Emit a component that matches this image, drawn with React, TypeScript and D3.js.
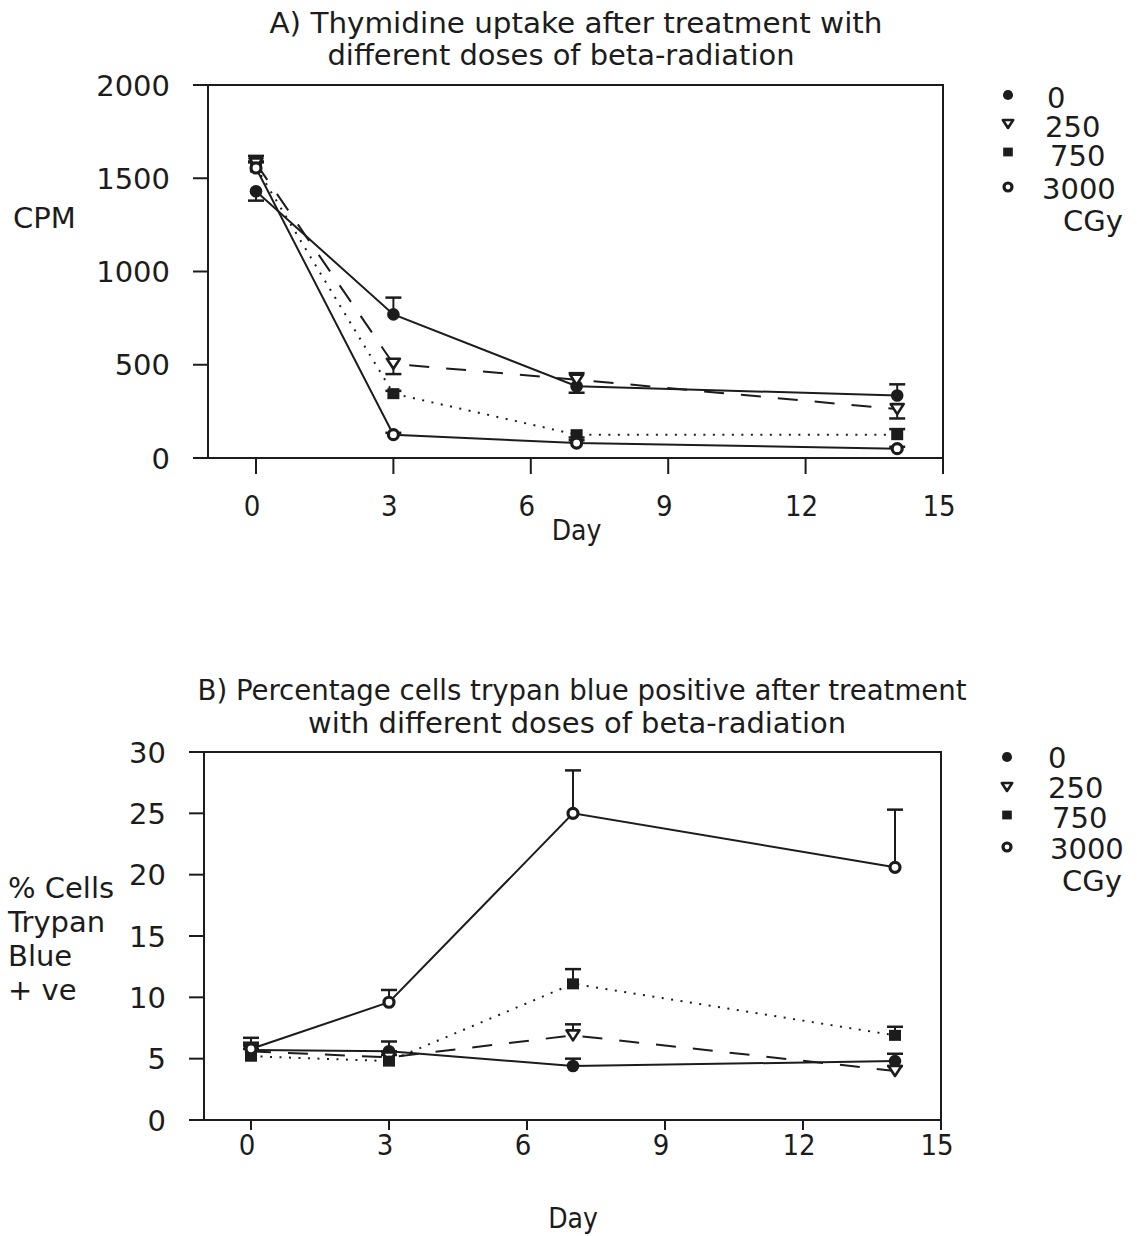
import React from "react";
import * as d3 from "d3";

// ---- Data ----
const days = [0, 3, 7, 14];
const doseLabels = ["0", "250", "750", "3000"];
const doseUnit = "CGy";
const xTickValues = [0, 3, 6, 9, 12, 15];

// Panel A: thymidine uptake (CPM)
const cpmDose0 = [1430, 770, 385, 335];
const cpmDose0Err = [-50, 90, 70, 60];
const cpmDose250 = [1580, 505, 420, 262];
const cpmDose250Err = [40, -55, -70, -50];
const cpmDose750 = [1560, 345, 125, 125];
const cpmDose750Err = [30, 15, -30, 30];
const cpmDose3000 = [1555, 125, 80, 50];
const cpmDose3000Err = [30, 10, 30, 10];
const cpmTicks = [0, 500, 1000, 1500, 2000];

// Panel B: % cells trypan blue positive
const pctDose0 = [5.7, 5.6, 4.4, 4.8];
const pctDose0Err = [0.6, 0.8, 0.6, 0.6];
const pctDose250 = [5.6, 5.1, 6.9, 4.0];
const pctDose250Err = [0.5, 0.5, 0.9, 0.4];
const pctDose750 = [5.2, 4.8, 11.1, 6.9];
const pctDose750Err = [0.6, 0.5, 1.2, 0.7];
const pctDose3000 = [5.8, 9.6, 25.0, 20.6];
const pctDose3000Err = [0.9, 1.0, 3.5, 4.7];
const pctTicks = [0, 5, 10, 15, 20, 25, 30];

// ---- Styles ----
const INK = "#1c1c1c";
const WIDE = "'DejaVu Sans', 'Liberation Sans', sans-serif";
const NARROW = "'Liberation Sans Narrow', 'DejaVu Sans Condensed', 'Liberation Sans', sans-serif";
const seriesStyle = [
  { marker: "dot", dash: null as string | null },
  { marker: "tri", dash: "20,17" },
  { marker: "sq", dash: "2,7.5" },
  { marker: "ring", dash: null as string | null },
];

function Marker({ kind, x, y, s = 1 }: { kind: string; x: number; y: number; s?: number }) {
  if (kind === "dot") return <circle cx={x} cy={y} r={6.3 * s} fill={INK} />;
  if (kind === "sq")
    return <rect x={x - 6 * s} y={y - 5.5 * s} width={12 * s} height={11 * s} fill={INK} />;
  if (kind === "tri") {
    const w = 6.5 * s, h = 5 * s;
    return (
      <path
        d={`M${x - w},${y - h}L${x + w},${y - h}L${x},${y + h}Z`}
        fill="#fff"
        stroke={INK}
        strokeWidth={2.6}
        strokeLinejoin="round"
      />
    );
  }
  return <circle cx={x} cy={y} r={5 * s} fill="#fff" stroke={INK} strokeWidth={3.2} />;
}

type PanelProps = {
  xRange: [number, number];
  yRange: [number, number];
  yMax: number;
  yTicks: number[];
  series: number[][];
  errors: number[][];
  axisLeft: number;
  xTickLen: number;
  xLabelBase: number;
  dayBase: number;
  legend: { x: number; tx: number[]; y: number[]; my: number[] };
};

function Panel(p: PanelProps) {
  const x = d3.scaleLinear().domain([0, 15]).range(p.xRange);
  const y = d3.scaleLinear().domain([0, p.yMax]).range(p.yRange);
  const line = d3
    .line<number>()
    .x((_, i) => x(days[i]))
    .y((d) => y(d));
  const top = y(p.yMax);
  const bottom = y(0);
  const right = x(15);
  const legendTexts = [...doseLabels, doseUnit];
  return (
    <g>
      {/* frame */}
      <path
        d={`M${p.axisLeft},${bottom}V${top}H${right}V${bottom}Z`}
        fill="none"
        stroke={INK}
        strokeWidth={2}
      />
      {/* y ticks */}
      {p.yTicks.map((t) => (
        <g key={t}>
          <line x1={p.axisLeft - 15} x2={p.axisLeft} y1={y(t)} y2={y(t)} stroke={INK} strokeWidth={2} />
          <text
            x={p.axisLeft - 38}
            y={y(t) + 10.5}
            textAnchor="end"
            fontFamily={WIDE}
            fontSize={29}
            fill={INK}
          >
            {t}
          </text>
        </g>
      ))}
      {/* x ticks */}
      {xTickValues.map((t) => (
        <g key={t}>
          <line x1={x(t)} x2={x(t)} y1={bottom} y2={bottom + p.xTickLen} stroke={INK} strokeWidth={2} />
          <text
            x={x(t) - 4}
            y={p.xLabelBase}
            textAnchor="middle"
            fontFamily={NARROW}
            fontSize={29}
            fill={INK}
          >
            {t}
          </text>
        </g>
      ))}
      <text x={x(7)} y={p.dayBase} textAnchor="middle" fontFamily={NARROW} fontSize={28} fill={INK}>
        Day
      </text>
      {/* lines */}
      {p.series.map((s, i) => (
        <path
          key={i}
          d={line(s) || ""}
          fill="none"
          stroke={INK}
          strokeWidth={2}
          strokeDasharray={seriesStyle[i].dash || undefined}
        />
      ))}
      {/* error bars */}
      {p.series.map((s, i) =>
        s.map((v, j) => {
          const e = p.errors[i][j];
          const cx = x(days[j]);
          const y2 = y(v + e);
          return (
            <g key={`e${i}-${j}`}>
              <line x1={cx} x2={cx} y1={y(v)} y2={y2} stroke={INK} strokeWidth={2} />
              <line x1={cx - 8} x2={cx + 8} y1={y2} y2={y2} stroke={INK} strokeWidth={2.5} />
            </g>
          );
        })
      )}
      {/* markers */}
      {p.series.map((s, i) =>
        s.map((v, j) => <Marker key={`m${i}-${j}`} kind={seriesStyle[i].marker} x={x(days[j])} y={y(v)} />)
      )}
      {/* legend */}
      {doseLabels.map((d, i) => (
        <Marker key={`l${d}`} kind={seriesStyle[i].marker} x={p.legend.x} y={p.legend.my[i]} s={0.8} />
      ))}
      {legendTexts.map((t, i) => (
        <text key={`lt${t}`} x={p.legend.tx[i]} y={p.legend.y[i]} fontFamily={WIDE} fontSize={29} fill={INK}>
          {t}
        </text>
      ))}
    </g>
  );
}

export default function App() {
  return (
    <svg
      width={1137}
      height={1236}
      style={{ position: "absolute", left: 0, top: 0, background: "#fff" }}
    >
      <rect width={1137} height={1236} fill="#fff" />
      {/* Panel A titles */}
      <text x={576} y={33} textAnchor="middle" fontFamily={NARROW} fontSize={28} fill={INK} textLength={613} lengthAdjust="spacingAndGlyphs">
        A) Thymidine uptake after treatment with
      </text>
      <text x={561} y={65} textAnchor="middle" fontFamily={NARROW} fontSize={28} fill={INK} textLength={467} lengthAdjust="spacingAndGlyphs">
        different doses of beta-radiation
      </text>
      <text x={13} y={228} fontFamily={WIDE} fontSize={29} fill={INK}>
        CPM
      </text>
      <Panel
        xRange={[256, 943]}
        yRange={[458, 85]}
        yMax={2000}
        yTicks={cpmTicks}
        series={[cpmDose0, cpmDose250, cpmDose750, cpmDose3000]}
        errors={[cpmDose0Err, cpmDose250Err, cpmDose750Err, cpmDose3000Err]}
        axisLeft={208}
        xTickLen={16}
        xLabelBase={516}
        dayBase={540}
        legend={{ x: 1008, tx: [1047, 1045, 1050, 1042, 1063], y: [108, 137, 166, 199, 231], my: [95, 124, 152, 187] }}
      />
      {/* Panel B titles */}
      <text x={582} y={700} textAnchor="middle" fontFamily={NARROW} fontSize={28} fill={INK} textLength={769} lengthAdjust="spacingAndGlyphs">
        B) Percentage cells trypan blue positive after treatment
      </text>
      <text x={577} y={733} textAnchor="middle" fontFamily={NARROW} fontSize={28} fill={INK} textLength={538} lengthAdjust="spacingAndGlyphs">
        with different doses of beta-radiation
      </text>
      {["% Cells", "Trypan", "Blue", "+ ve"].map((t, i) => (
        <text key={t} x={8} y={898 + i * 34} fontFamily={WIDE} fontSize={29} fill={INK}>
          {t}
        </text>
      ))}
      <Panel
        xRange={[251, 941]}
        yRange={[1120, 752]}
        yMax={30}
        yTicks={pctTicks}
        series={[pctDose0, pctDose250, pctDose750, pctDose3000]}
        errors={[pctDose0Err, pctDose250Err, pctDose750Err, pctDose3000Err]}
        axisLeft={204}
        xTickLen={10}
        xLabelBase={1155}
        dayBase={1228}
        legend={{ x: 1007, tx: [1048, 1048, 1052, 1050, 1062], y: [768, 798, 828, 859, 891], my: [757, 787, 815, 847] }}
      />
    </svg>
  );
}
